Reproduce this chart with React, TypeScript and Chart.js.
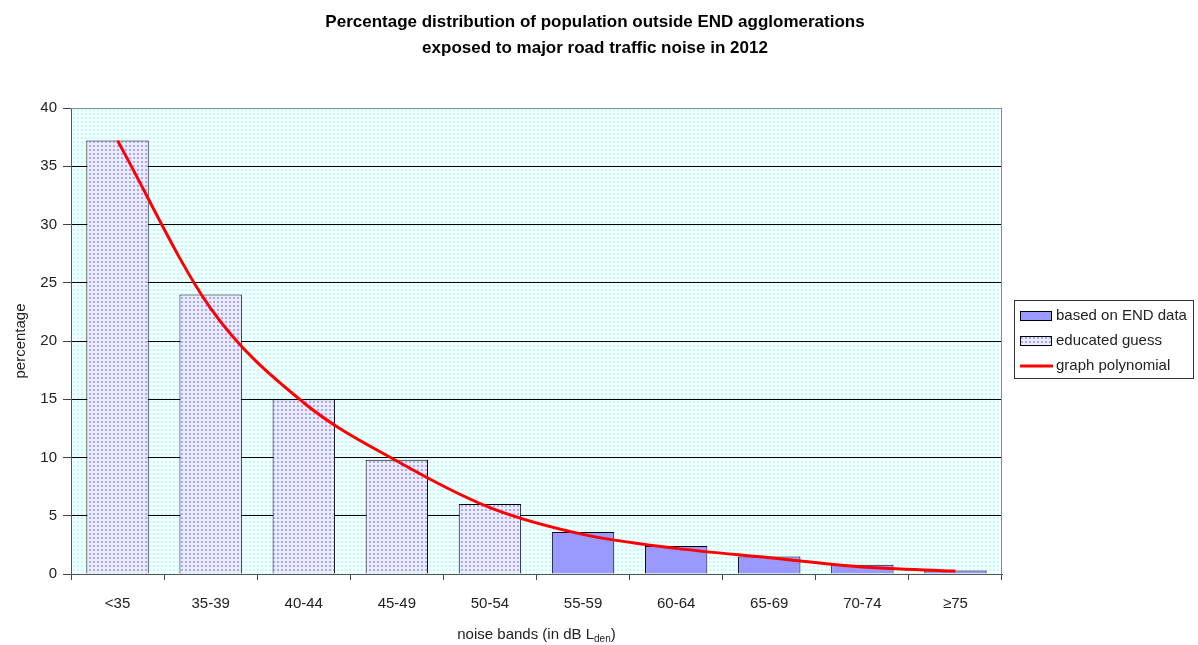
import React, { useEffect, useRef } from "react";
import { Chart, registerables } from "chart.js";

Chart.register(...registerables);

const titleLines = [
  "Percentage distribution of population outside END agglomerations",
  "exposed to major road traffic noise in 2012",
];
const categories = ["<35", "35-39", "40-44", "45-49", "50-54", "55-59", "60-64", "65-69", "70-74", "≥75"];
const endData = [null, null, null, null, null, 3.6, 2.4, 1.5, 0.8, 0.3];
const guessData = [37.2, 24.0, 15.0, 9.8, 6.0, null, null, null, null, null];
const polyData = [37.2, 22.8, 14.7, 9.7, 5.7, 3.4, 2.2, 1.4, 0.6, 0.25];
const seriesLabels = ["based on END data", "educated guess", "graph polynomial"];
const yAxisTitle = "percentage";
const xAxisTitleMain = "noise bands (in dB L";
const xAxisTitleSub = "den";
const xAxisTitleEnd = ")";

const FONT = '"Liberation Sans", Arial, Helvetica, sans-serif';

function makePattern(base: string, dot: string): CanvasPattern | string {
  const c = document.createElement("canvas");
  c.width = 4;
  c.height = 4;
  const g = c.getContext("2d");
  if (!g) return base;
  g.fillStyle = base;
  g.fillRect(0, 0, 4, 4);
  g.fillStyle = dot;
  g.fillRect(1, 1, 2, 2);
  const p = g.createPattern(c, "repeat");
  return p || base;
}

export default function App() {
  const ref = useRef<HTMLCanvasElement | null>(null);

  useEffect(() => {
    const canvas = ref.current;
    if (!canvas) return;
    const barPattern = makePattern("#ececff", "#a8a8ff");
    const bgPattern = makePattern("#f2ffff", "#c2fcfc");
    const endColor = "#9999ff";

    const bgPlugin = {
      id: "bgPlugin",
      beforeDraw(chart: any) {
        const { ctx, chartArea: a } = chart;
        ctx.save();
        ctx.fillStyle = bgPattern as any;
        ctx.fillRect(a.left, a.top, a.right - a.left, a.bottom - a.top);
        ctx.restore();
      },
      afterDraw(chart: any) {
        const { ctx, chartArea: a } = chart;
        ctx.save();
        // title
        ctx.fillStyle = "#000";
        ctx.textAlign = "center";
        ctx.textBaseline = "middle";
        ctx.font = `bold 17px ${FONT}`;
        ctx.fillText(titleLines[0], 595, 22);
        ctx.fillText(titleLines[1], 595, 48);

        // top and right border of plot area
        ctx.strokeStyle = "#8a8a8a";
        ctx.lineWidth = 1;
        ctx.beginPath();
        ctx.moveTo(a.left, a.top + 0.5);
        ctx.lineTo(a.right - 0.5, a.top + 0.5);
        ctx.lineTo(a.right - 0.5, a.bottom);
        ctx.stroke();

        // x axis title with subscript
        ctx.fillStyle = "#222";
        ctx.textBaseline = "alphabetic";
        ctx.font = `15px ${FONT}`;
        const w1 = ctx.measureText(xAxisTitleMain).width;
        const w3 = ctx.measureText(xAxisTitleEnd).width;
        ctx.font = `10px ${FONT}`;
        const w2 = ctx.measureText(xAxisTitleSub).width;
        const total = w1 + w2 + w3;
        let x = (a.left + a.right) / 2 - total / 2;
        const y = 639;
        ctx.font = `15px ${FONT}`;
        ctx.textAlign = "left";
        ctx.fillText(xAxisTitleMain, x, y);
        x += w1;
        ctx.font = `10px ${FONT}`;
        ctx.fillText(xAxisTitleSub, x, y + 3);
        x += w2;
        ctx.font = `15px ${FONT}`;
        ctx.fillText(xAxisTitleEnd, x, y);

        // legend
        const bx = 1014, by = 300, bw = 179, bh = 78;
        ctx.fillStyle = "#ffffff";
        ctx.fillRect(bx, by, bw, bh);
        ctx.strokeStyle = "#333";
        ctx.lineWidth = 1;
        ctx.strokeRect(bx + 0.5, by + 0.5, bw, bh);
        const rows = [316, 341, 366];
        const fills: any[] = [endColor, barPattern];
        ctx.font = `15px ${FONT}`;
        ctx.textBaseline = "middle";
        rows.forEach((ry, i) => {
          if (i < 2) {
            ctx.fillStyle = fills[i];
            ctx.fillRect(1020, ry - 4, 31, 9);
            ctx.strokeStyle = "#000";
            ctx.lineWidth = 1;
            ctx.strokeRect(1020.5, ry - 4.5, 31, 9);
          } else {
            ctx.strokeStyle = "#ff0000";
            ctx.lineWidth = 3;
            ctx.beginPath();
            ctx.moveTo(1020, ry);
            ctx.lineTo(1053, ry);
            ctx.stroke();
          }
          ctx.fillStyle = "#222";
          ctx.fillText(seriesLabels[i], 1056, ry);
        });
        ctx.restore();
      },
    };

    const chart = new Chart(canvas, {
      type: "bar",
      data: {
        labels: categories,
        datasets: [
          {
            type: "line",
            label: seriesLabels[2],
            data: polyData,
            borderColor: "#ff0000",
            backgroundColor: "#ff0000",
            borderWidth: 3,
            pointRadius: 0,
            cubicInterpolationMode: "monotone",
            order: 0,
          } as any,
          {
            label: seriesLabels[0],
            data: endData,
            backgroundColor: endColor,
            borderColor: "#000",
            borderWidth: 1,
            grouped: false,
            categoryPercentage: 1,
            barPercentage: 0.67,
            order: 1,
          } as any,
          {
            label: seriesLabels[1],
            data: guessData,
            backgroundColor: barPattern as any,
            borderColor: "#000",
            borderWidth: 1,
            grouped: false,
            categoryPercentage: 1,
            barPercentage: 0.67,
            order: 1,
          } as any,
        ],
      },
      options: {
        responsive: false,
        animation: false,
        devicePixelRatio: 1,
        layout: { padding: { left: 0, right: 196, top: 108, bottom: 0 } },
        plugins: {
          legend: { display: false },
          tooltip: { enabled: false },
          title: { display: false },
        },
        scales: {
          x: {
            afterFit(scale: any) {
              scale.height = 71;
            },
            grid: {
              drawOnChartArea: false,
              drawTicks: true,
              tickLength: 6,
              tickColor: "#444",
              offset: true,
            },
            border: { display: true, color: "#555", width: 1 },
            ticks: {
              color: "#222",
              font: { family: FONT, size: 15 },
              padding: 15,
              maxRotation: 0,
              autoSkip: false,
            },
          },
          y: {
            min: 0,
            max: 40,
            afterFit(scale: any) {
              scale.width = 71;
            },
            ticks: {
              stepSize: 5,
              color: "#222",
              font: { family: FONT, size: 15 },
              padding: 6,
            },
            grid: {
              color: (c: any) => (c.tick && c.tick.value === 40 ? "#8a8a8a" : "#000"),
              tickColor: "#444",
              tickLength: 8,
              drawTicks: true,
            },
            border: { display: true, color: "#555", width: 1 },
            title: {
              display: true,
              text: yAxisTitle,
              color: "#222",
              font: { family: FONT, size: 15 },
              padding: { top: 12, bottom: 0 },
            },
          },
        },
      },
      plugins: [bgPlugin],
    });

    return () => {
      chart.destroy();
    };
  }, []);

  return (
    <canvas
      ref={ref}
      width={1198}
      height={645}
      style={{ position: "fixed", left: 0, top: 0, width: 1198, height: 645, display: "block", background: "#fff" }}
    />
  );
}
